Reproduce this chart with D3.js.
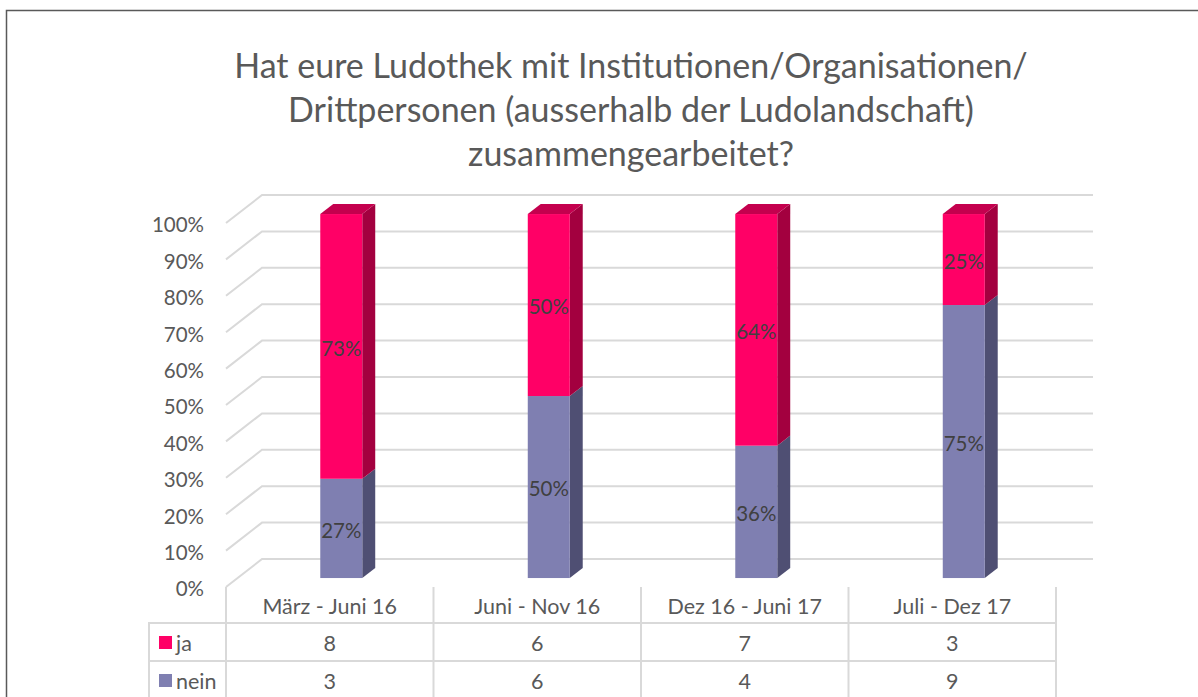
<!DOCTYPE html>
<html>
<head>
<meta charset="utf-8">
<script src="https://cdn.jsdelivr.net/npm/d3@7"></script>
<style>
  body { margin: 0; background: #fff; }
  text { font-family: Lato, "Open Sans", sans-serif; fill: #595959; }
</style>
</head>
<body>
<div id="chartBox"></div>
<script>
(function () {
  'use strict';

  var categories = ["März - Juni 16", "Juni - Nov 16", "Dez 16 - Juni 17", "Juli - Dez 17"];
  var seriesNames = ["ja", "nein"];
  var jaValues = [8, 6, 7, 3];
  var neinValues = [3, 6, 4, 9];
  var tickValues = [0, 0.1, 0.2, 0.3, 0.4, 0.5, 0.6, 0.7, 0.8, 0.9, 1];
  var titleLines = [
    "Hat eure Ludothek mit Institutionen/Organisationen/",
    "Drittpersonen (ausserhalb der Ludolandschaft)",
    "zusammengearbeitet?"
  ];

  var colors = {
    ja:   { front: "#ff0066", side: "#a3003f", top: "#c4004e" },
    nein: { front: "#7f7fb1", side: "#4f4f73", top: "#66668e" }
  };

  var outerWidth = 1198, outerHeight = 697;

  // 3d box: front plane -> back wall offset
  var depth = { dx: 36, dy: -28 };
  var barZ = [0.32, 0.68];   // bar sits in the middle of the depth
  var barWidth = 42;

  var svg = d3.select("#chartBox").append("svg")
    .attr("width", outerWidth)
    .attr("height", outerHeight);

  // outer frame
  svg.append("path")
    .attr("d", "M6.5,697 L6.5,10.5 L1198,10.5")
    .attr("fill", "none")
    .attr("stroke", "#595959")
    .attr("stroke-width", 1.5);

  // title
  svg.append("g").selectAll("text")
    .data(titleLines)
    .enter().append("text")
    .attr("x", 631)
    .attr("y", function (d, i) { return 78 + i * 44; })
    .attr("text-anchor", "middle")
    .style("font-size", "34px")
    .text(function (d) { return d; });

  var x = d3.scaleBand().domain(categories).range([226, 1056]);
  var y = d3.scaleLinear().domain([0, 1]).range([587, 223]);

  function px(xv, z) { return xv + z * depth.dx; }
  function py(v, z) { return y(v) + z * depth.dy; }

  // gridlines: side wall diagonal + back wall
  var grid = svg.append("g").attr("class", "grid");
  grid.selectAll("path")
    .data(tickValues)
    .enter().append("path")
    .attr("fill", "none")
    .attr("stroke", "#d9d9d9")
    .attr("stroke-width", 2)
    .attr("d", function (v) {
      return "M" + px(226, 0) + "," + py(v, 0) +
        " L" + px(226, 1) + "," + py(v, 1) +
        " L" + px(1057, 1) + "," + py(v, 1);
    });

  // y axis labels
  svg.append("g").selectAll("text")
    .data(tickValues)
    .enter().append("text")
    .attr("x", 204)
    .attr("y", function (v) { return y(v) + 2; })
    .attr("dy", "0.36em")
    .attr("text-anchor", "end")
    .style("font-size", "20.5px")
    .text(d3.format(".0%"));

  // stacked 100% data
  var rows = categories.map(function (c, i) {
    var total = jaValues[i] + neinValues[i];
    return { cat: c, nein: neinValues[i] / total, ja: jaValues[i] / total };
  });
  var stack = d3.stack().keys(["nein", "ja"])(rows);

  var bars = svg.append("g").attr("class", "bars");

  stack.forEach(function (layer) {
    var key = layer.key;
    layer.forEach(function (seg) {
      var cat = seg.data.cat;
      var x0 = x(cat) + x.bandwidth() / 2 - barWidth / 2;
      var x1 = x0 + barWidth;
      var g = bars.append("g");
      // side face
      g.append("path")
        .attr("fill", colors[key].side)
        .attr("d", "M" + px(x1, barZ[0]) + "," + py(seg[0], barZ[0]) +
          " L" + px(x1, barZ[1]) + "," + py(seg[0], barZ[1]) +
          " L" + px(x1, barZ[1]) + "," + py(seg[1], barZ[1]) +
          " L" + px(x1, barZ[0]) + "," + py(seg[1], barZ[0]) + "Z");
      // top face on the last segment
      if (key === "ja") {
        g.append("path")
          .attr("fill", colors[key].top)
          .attr("d", "M" + px(x0, barZ[0]) + "," + py(seg[1], barZ[0]) +
            " L" + px(x0, barZ[1]) + "," + py(seg[1], barZ[1]) +
            " L" + px(x1, barZ[1]) + "," + py(seg[1], barZ[1]) +
            " L" + px(x1, barZ[0]) + "," + py(seg[1], barZ[0]) + "Z");
      }
      // front face
      g.append("rect")
        .attr("fill", colors[key].front)
        .attr("x", px(x0, barZ[0]))
        .attr("y", py(seg[1], barZ[0]))
        .attr("width", barWidth)
        .attr("height", py(seg[0], barZ[0]) - py(seg[1], barZ[0]));
      // label
      g.append("text")
        .attr("x", px(x0, barZ[0]) + barWidth / 2)
        .attr("y", py((seg[0] + seg[1]) / 2, barZ[0]) + 2)
        .attr("dy", "0.36em")
        .attr("text-anchor", "middle")
        .style("font-size", "20.5px")
        .style("fill", "#404040")
        .text(d3.format(".0%")(seg[1] - seg[0]));
    });
  });

  // data table
  var table = svg.append("g").attr("class", "table");
  var rowTop = [587, 623, 661, 699];
  var lineColor = "#d9d9d9";

  // vertical lines
  var vx = [226].concat(categories.map(function (c) { return x(c) + x.bandwidth(); }));
  table.selectAll("line.v")
    .data(vx)
    .enter().append("line")
    .attr("class", "v")
    .attr("x1", function (d) { return d; })
    .attr("x2", function (d) { return d; })
    .attr("y1", rowTop[0])
    .attr("y2", rowTop[3])
    .attr("stroke", lineColor)
    .attr("stroke-width", 2);
  table.append("line")
    .attr("x1", 149).attr("x2", 149)
    .attr("y1", rowTop[1]).attr("y2", rowTop[3])
    .attr("stroke", lineColor).attr("stroke-width", 2);
  table.selectAll("line.h")
    .data([rowTop[1], rowTop[2]])
    .enter().append("line")
    .attr("class", "h")
    .attr("x1", 148).attr("x2", 1057)
    .attr("y1", function (d) { return d; })
    .attr("y2", function (d) { return d; })
    .attr("stroke", lineColor)
    .attr("stroke-width", 2);

  // category labels
  table.selectAll("text.cat")
    .data(categories)
    .enter().append("text")
    .attr("class", "cat")
    .attr("x", function (c) { return x(c) + x.bandwidth() / 2; })
    .attr("y", (rowTop[0] + rowTop[1]) / 2 + 1)
    .attr("dy", "0.36em")
    .attr("text-anchor", "middle")
    .style("font-size", "21.5px")
    .text(function (d) { return d; });

  var seriesValues = [jaValues, neinValues];
  seriesNames.forEach(function (name, r) {
    var cy = (rowTop[r + 1] + rowTop[r + 2]) / 2;
    table.append("rect")
      .attr("x", 159).attr("y", cy - 6)
      .attr("width", 13).attr("height", 13)
      .attr("fill", colors[name].front);
    table.append("text")
      .attr("x", 176).attr("y", cy + 1)
      .attr("dy", "0.36em")
      .style("font-size", "21.5px")
      .text(name);
    table.selectAll("text.v" + r)
      .data(seriesValues[r])
      .enter().append("text")
      .attr("class", "v" + r)
      .attr("x", function (d, i) { return x(categories[i]) + x.bandwidth() / 2; })
      .attr("y", cy + 1)
      .attr("dy", "0.36em")
      .attr("text-anchor", "middle")
      .style("font-size", "21.5px")
      .text(function (d) { return d; });
  });

})();
</script>
</body>
</html>
